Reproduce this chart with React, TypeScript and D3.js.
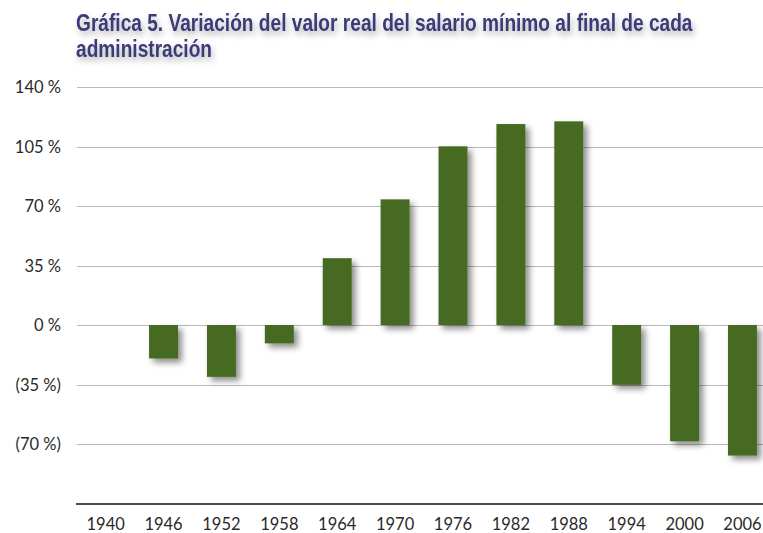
import React, { useEffect, useRef } from 'react';
import * as d3 from 'd3';

const years = ['1940', '1946', '1952', '1958', '1964', '1970', '1976', '1982', '1988', '1994', '2000', '2006'];
const values = [null, -19.7, -30.5, -10.8, 39.3, 73.9, 105.1, 118.2, 119.8, -35.2, -68.4, -76.8];
const yTicks = [140, 105, 70, 35, 0, -35, -70];
const titleLines = ['Gráfica 5. Variación del valor real del salario mínimo al final de cada', 'administración'];

const W = 763;
const H = 533;

const fmt = (v: number) => (v < 0 ? `(${-v} %)` : `${v} %`);

const App = () => {
  const ref = useRef<SVGSVGElement>(null);

  useEffect(() => {
    const svg = d3.select(ref.current);
    svg.selectAll('*').remove();

    const defs = svg.append('defs');
    const f = defs
      .append('filter')
      .attr('id', 'shadow')
      .attr('x', '-30%')
      .attr('y', '-30%')
      .attr('width', '160%')
      .attr('height', '160%');
    f.append('feDropShadow')
      .attr('dx', 4)
      .attr('dy', 4)
      .attr('stdDeviation', 3)
      .attr('flood-color', '#000')
      .attr('flood-opacity', 0.45);

    const tf = defs
      .append('filter')
      .attr('id', 'tshadow')
      .attr('x', '-10%')
      .attr('y', '-40%')
      .attr('width', '120%')
      .attr('height', '180%');
    tf.append('feDropShadow')
      .attr('dx', 2)
      .attr('dy', 4)
      .attr('stdDeviation', 3)
      .attr('flood-color', '#000')
      .attr('flood-opacity', 0.3);

    const x = d3.scaleBand().domain(years).range([76.7, 771.4]).paddingInner(0.5).paddingOuter(0.25);
    const y = d3.scaleLinear().domain([-105, 140]).range([503.5, 87]);

    // title, squeezed horizontally to look condensed
    const tg = svg.append('g').attr('filter', 'url(#tshadow)');
    const inner = tg.append('g');
    const titles = inner
      .selectAll('text')
      .data(titleLines)
      .enter()
      .append('text')
      .attr('x', 0)
      .attr('y', (d, i) => 31 + i * 26.5)
      .style('font-family', '"Liberation Sans", Arial, sans-serif')
      .style('font-weight', 'bold')
      .style('font-size', '23px')
      .style('fill', '#3b3a78')
      .text((d) => d);
    const w0 = (titles.nodes()[0] as SVGTextElement).getComputedTextLength();
    const sx = 617 / w0;
    inner.attr('transform', `translate(76,0) scale(${sx},1)`);

    // gridlines
    svg
      .append('g')
      .selectAll('line')
      .data(yTicks)
      .enter()
      .append('line')
      .attr('x1', 77)
      .attr('x2', W)
      .attr('y1', (d) => Math.round(y(d)) + 0.5)
      .attr('y2', (d) => Math.round(y(d)) + 0.5)
      .attr('stroke', '#b8b8b8')
      .attr('stroke-width', 1);

    // y labels
    svg
      .append('g')
      .selectAll('text')
      .data(yTicks)
      .enter()
      .append('text')
      .attr('x', 61)
      .attr('y', (d) => y(d) + 6)
      .attr('text-anchor', 'end')
      .style('font-family', 'Lato, sans-serif')
      .style('font-size', '16.5px')
      .style('fill', '#2a2a2a')
      .text((d) => fmt(d));

    // bars
    svg
      .append('g')
      .attr('filter', 'url(#shadow)')
      .selectAll('rect')
      .data(years.map((yr, i) => ({ yr, v: values[i] })).filter((d) => d.v !== null))
      .enter()
      .append('rect')
      .attr('x', (d) => x(d.yr)!)
      .attr('width', x.bandwidth())
      .attr('y', (d) => y(Math.max(0, d.v as number)))
      .attr('height', (d) => Math.abs(y(d.v as number) - y(0)))
      .attr('fill', '#466b20');

    // x axis line
    svg
      .append('line')
      .attr('x1', 76)
      .attr('x2', W)
      .attr('y1', 504)
      .attr('y2', 504)
      .attr('stroke', '#111')
      .attr('stroke-width', 1.5);

    // x labels
    svg
      .append('g')
      .selectAll('text')
      .data(years)
      .enter()
      .append('text')
      .attr('x', (d) => x(d)! + x.bandwidth() / 2)
      .attr('y', 530)
      .attr('text-anchor', 'middle')
      .style('font-family', 'Lato, sans-serif')
      .style('font-size', '16.5px')
      .style('fill', '#2a2a2a')
      .text((d) => d);
  }, []);

  return (
    <svg
      ref={ref}
      width={W}
      height={H}
      style={{ position: 'absolute', left: 0, top: 0, background: '#fff' }}
    />
  );
};

export default App;
